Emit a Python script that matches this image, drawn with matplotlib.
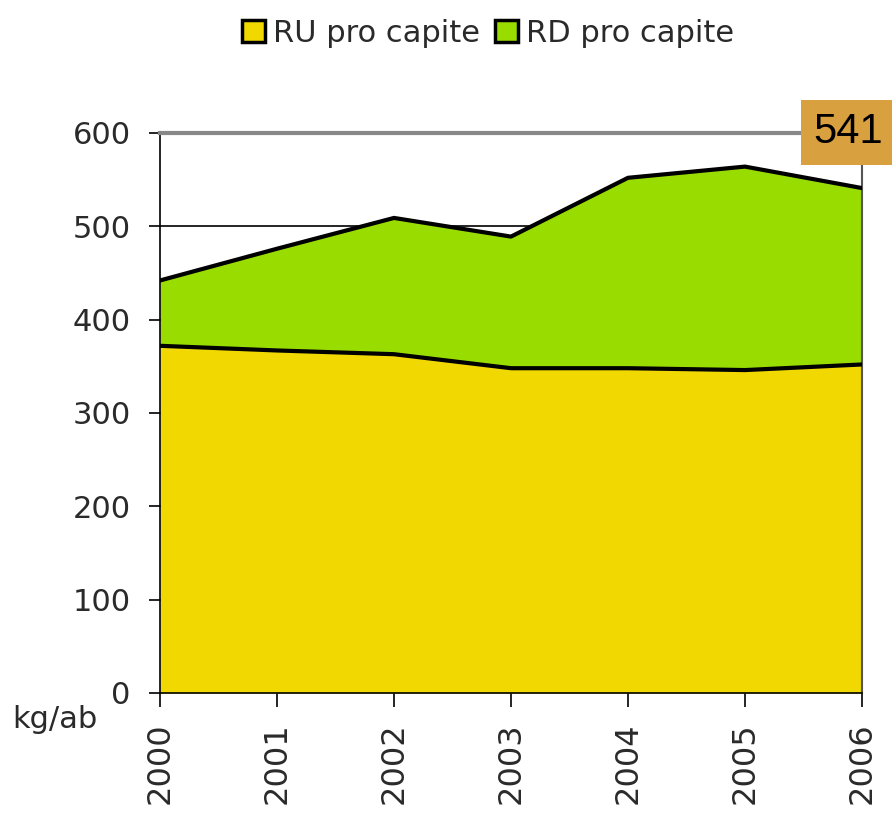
import matplotlib
matplotlib.use("Agg")
import matplotlib.pyplot as plt
from matplotlib.patches import Patch

years = [2000, 2001, 2002, 2003, 2004, 2005, 2006]
ru_pro_capite = [372, 367, 363, 348, 348, 346, 352]
rd_pro_capite = [70, 109, 146, 141, 204, 218, 189]
year_labels = ["2000", "2001", "2002", "2003", "2004", "2005", "2006"]
y_ticks = [0, 100, 200, 300, 400, 500, 600]
series_names = ["RU pro capite", "RD pro capite"]
highlight_value = "541"

yellow = "#F0D800"
green = "#99DD00"
text_color = "#2a2a2a"

fig = plt.figure(figsize=(8.92, 8.26), dpi=100)
ax = fig.add_axes([160/892, 1-693/826, (862-160)/892, (693-133)/826])

total = [a + b for a, b in zip(ru_pro_capite, rd_pro_capite)]
ax.fill_between(years, 0, ru_pro_capite, color=yellow, lw=0, zorder=2)
ax.fill_between(years, ru_pro_capite, total, color=green, lw=0, zorder=2)
ax.plot(years, ru_pro_capite, color="black", lw=3, zorder=3)
ax.plot(years, total, color="black", lw=3, zorder=3)

ax.set_xlim(2000, 2006)
ax.set_ylim(0, 600)
ax.set_yticks(y_ticks)
ax.set_yticklabels([str(v) for v in y_ticks])
ax.set_xticks(years)
ax.set_xticklabels(year_labels, rotation=90)

ax.yaxis.grid(True, color="black", lw=1.2, zorder=1)
ax.set_axisbelow(True)

for s in ["left", "bottom"]:
    ax.spines[s].set_color("black")
    ax.spines[s].set_linewidth(1.2)
ax.spines["top"].set_color("#888888")
ax.spines["top"].set_linewidth(3)
ax.spines["right"].set_color("#555555")
ax.spines["right"].set_linewidth(1.5)

ax.tick_params(axis="y", length=8, width=1.2, colors="black", labelcolor=text_color,
               labelsize=22, pad=13)
ax.tick_params(axis="x", length=10, width=1.2, colors="black", labelcolor=text_color,
               labelsize=23, pad=11)
for lab in ax.get_xticklabels():
    lab.set_va("top")

fig.text(12/892, 1-720/826, "kg/ab", fontsize=22, color=text_color, ha="left", va="center")

handles = [Patch(facecolor=yellow, edgecolor="black", lw=2.5),
           Patch(facecolor=green, edgecolor="black", lw=2.5)]
fig.legend(handles, series_names, loc="center", bbox_to_anchor=(488/892, 1-33/826),
           ncol=2, frameon=False, fontsize=22, handlelength=0.75, handleheight=0.75,
           handletextpad=0.25, columnspacing=0.5, labelcolor=text_color)

fig.text(848/892, 1-132/826, highlight_value, fontsize=30, family="Liberation Sans",
         color="black", ha="center", va="center",
         bbox=dict(boxstyle="square,pad=0.3", facecolor="#D9A040", edgecolor="none"))

fig.savefig("out.png", dpi=100)
